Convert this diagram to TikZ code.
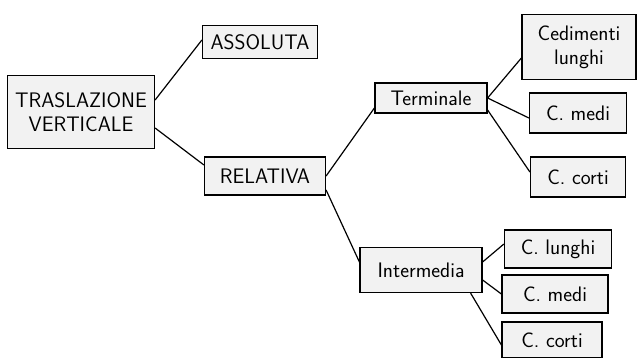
\documentclass[tikz,border=0pt]{standalone}
\usepackage{tikz}
\usetikzlibrary{positioning}

\begin{document}
\begin{tikzpicture}[x=1pt,y=-1pt,line width=1.2pt]
\tikzstyle{every node}=[font=\sffamily\fontsize{21}{24}\selectfont,text=black]
\tikzstyle{box}=[draw=black,fill=black!5,align=center,inner sep=1pt]
\useasboundingbox[fill=white] (0,0) rectangle (638,358);
\node[box,minimum width=147,minimum height=73] (tv) at (81,112) {TRASLAZIONE\\VERTICALE};
\node[box,minimum width=115,minimum height=33] (ass) at (260,42) {ASSOLUTA};
\node[box,minimum width=121,minimum height=38] (rel) at (265,176) {RELATIVA};
\node[box,minimum width=112,minimum height=30] (term) at (431,98) {Terminale};
\node[box,minimum width=114,minimum height=65] (ced) at (579,47) {Cedimenti\\lunghi};
\node[box,minimum width=97,minimum height=40] (medi1) at (578,113) {C. medi};
\node[box,minimum width=95,minimum height=40] (corti1) at (578,177) {C. corti};
\node[box,minimum width=122,minimum height=45] (inter) at (421,270) {Intermedia};
\node[box,minimum width=107,minimum height=38] (lun2) at (558,249) {C. lunghi};
\node[box,minimum width=106,minimum height=38] (medi2) at (555,294) {C. medi};
\node[box,minimum width=100,minimum height=36] (corti2) at (552,340) {C. corti};
\path[draw] ([yshift=12pt]tv.east) -- ([yshift=2pt]ass.west)
            ([yshift=-16pt]tv.east) -- ([yshift=11pt]rel.west)
            (rel.east) -- ([yshift=-10pt]term.west)
            ([yshift=-14pt]rel.east) -- ([yshift=8pt]inter.west)
            (term.east) -- ([yshift=-11pt]ced.west)
            (term.east) -- ([yshift=-5pt]medi1.west)
            ([yshift=-12pt]term.east) -- ([yshift=5pt]corti1.west)
            ([yshift=8pt]inter.east) -- ([yshift=5pt]lun2.west)
            ([yshift=-10pt]inter.east) -- (medi2.west)
            ([xshift=-12pt]inter.south east) -- ([yshift=-5pt]corti2.west);
\end{tikzpicture}
\end{document}
